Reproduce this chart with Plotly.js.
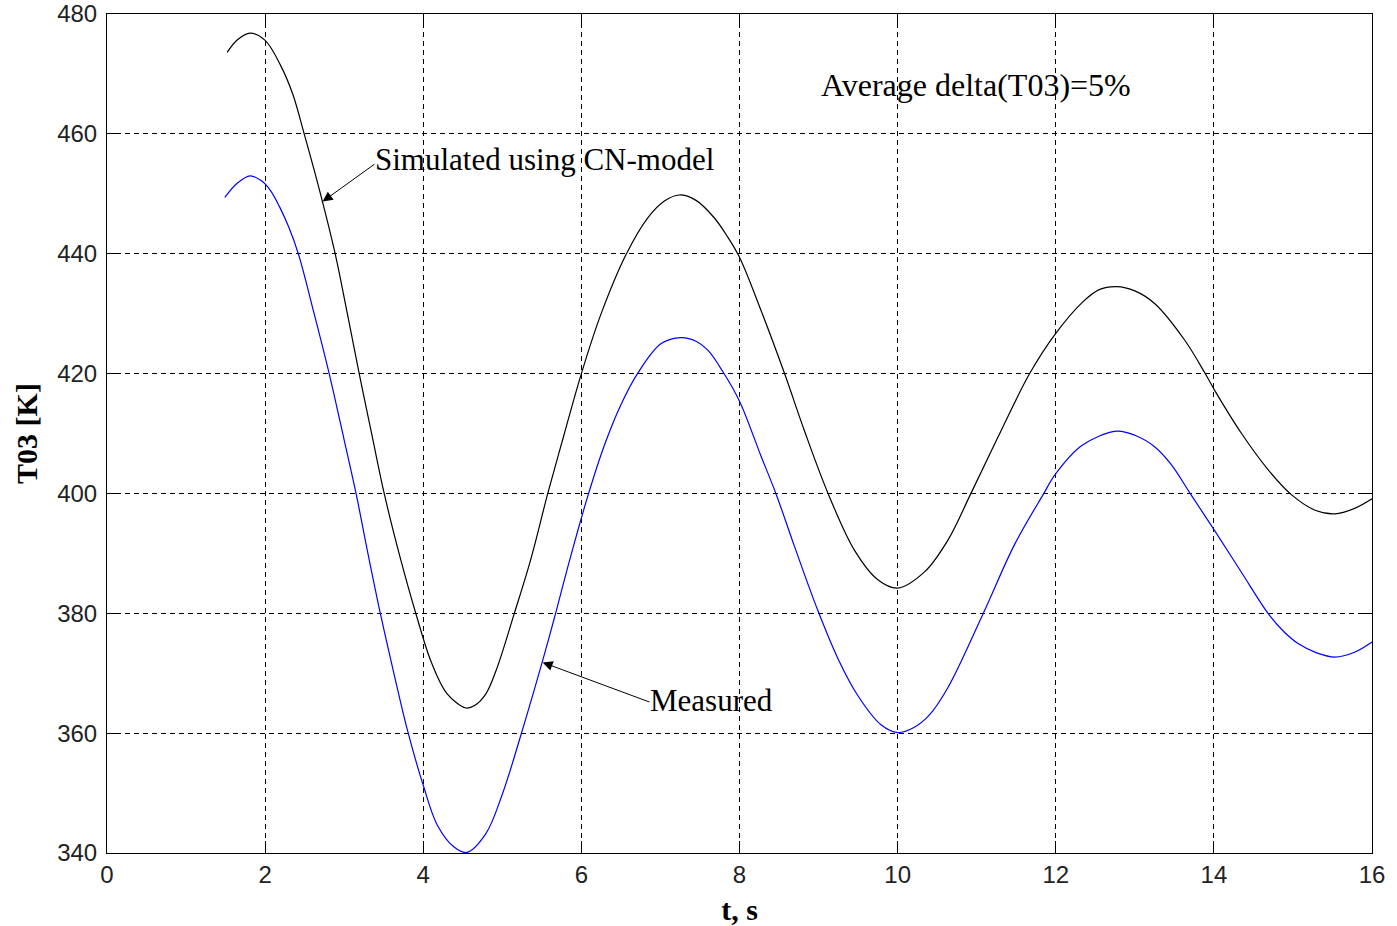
<!DOCTYPE html>
<html>
<head>
<meta charset="utf-8">
<script src="https://cdn.plot.ly/plotly-3.0.1.min.js"></script>
<style>
  html, body { margin: 0; padding: 0; background: #ffffff; }
  #chart { width: 1397px; height: 926px; }
</style>
</head>
<body>
<div id="chart"></div>
<script>
// Simulated (CN-model), black curve
var simT = [1.52, 1.65, 1.81, 2.0, 2.2, 2.35, 2.494, 2.69, 2.886, 3.04, 3.19, 3.35, 3.506,
  3.71, 3.91, 4.1, 4.3, 4.54, 4.65, 4.79, 4.92, 5.15, 5.36, 5.575, 5.785, 6.0, 6.25, 6.57,
  6.84, 7.05, 7.24, 7.45, 7.68, 7.85, 8.0, 8.27, 8.57, 8.82, 9.12, 9.455, 9.75, 10.0, 10.34,
  10.64, 10.92, 11.27, 11.67, 12.0, 12.33, 12.55, 12.77, 13.0, 13.25, 13.63, 13.89, 14.01,
  14.35, 14.69, 14.98, 15.28, 15.53, 15.78, 16.0];
var simTemp = [473.6, 475.7, 476.8, 475.6, 471.3, 466.6, 460.0, 450.5, 440.0, 430.0, 420.0,
  409.8, 400.0, 389.2, 379.8, 371.9, 366.6, 364.2, 364.6, 366.5, 370.4, 379.9, 389.0, 400.0,
  410.0, 420.0, 430.0, 440.0, 446.0, 448.8, 449.8, 448.9, 446.0, 442.8, 439.4, 430.6, 420.0,
  410.5, 400.0, 390.5, 385.6, 384.2, 386.9, 392.3, 399.8, 409.4, 420.0, 426.7, 431.8, 434.0,
  434.5, 433.8, 431.7, 425.6, 420.0, 417.2, 410.0, 403.9, 399.8, 397.2, 396.6, 397.5, 399.1];

// Measured, blue curve
var measT = [1.49, 1.65, 1.81, 1.95, 2.07, 2.18, 2.30, 2.42, 2.62, 2.81, 3.0, 3.15, 3.30,
  3.46, 3.63, 3.80, 4.0, 4.18, 4.39, 4.55, 4.79, 5.0, 5.24, 5.51, 5.66, 5.85, 6.08, 6.29,
  6.5, 6.71, 7.01, 7.26, 7.45, 7.6, 7.79, 8.0, 8.27, 8.46, 8.70, 8.99, 9.25, 9.5, 9.79, 10.0,
  10.2, 10.4, 10.64, 11.08, 11.48, 11.84, 12.0, 12.33, 12.77, 13.0, 13.25, 13.45, 13.71,
  14.01, 14.35, 14.69, 14.88, 15.07, 15.3, 15.53, 15.78, 16.0];
var measTemp = [449.4, 451.8, 453.0, 452.2, 450.5, 447.9, 444.4, 440.0, 430.0, 420.0, 408.9,
  400.0, 390.0, 379.8, 369.9, 360.5, 351.3, 344.6, 341.0, 340.1, 343.2, 349.8, 359.9, 372.1,
  379.3, 388.8, 399.5, 408.0, 414.8, 420.0, 425.0, 426.0, 425.4, 423.9, 420.3, 415.4, 406.3,
  400.0, 391.0, 380.5, 372.3, 366.2, 361.4, 360.1, 360.9, 363.0, 367.7, 379.9, 391.5, 399.8,
  403.3, 408.0, 410.4, 409.7, 407.8, 405.0, 399.8, 393.8, 386.8, 379.9, 377.0, 374.9, 373.4,
  372.7, 373.5, 375.2];

var xTicks = [0, 2, 4, 6, 8, 10, 12, 14, 16];
var yTicks = [340, 360, 380, 400, 420, 440, 460, 480];

var xTitle = "t, s";
var yTitle = "T03 [K]";
var simLabel = "Simulated using CN-model";
var measLabel = "Measured";
var noteLabel = "Average delta(T03)=5%";

var serif = "'Liberation Serif', 'Times New Roman', Times, serif";
var sans = "'Liberation Sans', Arial, Helvetica, sans-serif";

var traces = [
  { x: simT, y: simTemp, type: 'scatter', mode: 'lines', name: simLabel,
    line: { color: '#000000', width: 1.2, shape: 'spline', smoothing: 1 } },
  { x: measT, y: measTemp, type: 'scatter', mode: 'lines', name: measLabel,
    line: { color: '#0000ff', width: 1.2, shape: 'spline', smoothing: 1 } }
];

var axisCommon = {
  showline: true, linecolor: '#000000', linewidth: 1, mirror: 'ticks',
  ticks: 'inside', ticklen: 12, tickwidth: 1, tickcolor: '#000000',
  showgrid: true, gridcolor: '#000000', gridwidth: 1, griddash: '5px,4px',
  zeroline: false,
  tickfont: { family: sans, size: 24, color: '#222222' }
};

var layout = {
  width: 1397, height: 926,
  margin: { l: 107, r: 25, t: 14, b: 73 },
  paper_bgcolor: '#ffffff', plot_bgcolor: '#ffffff',
  showlegend: false,
  xaxis: Object.assign({}, axisCommon, {
    range: [0, 16], tickmode: 'array', tickvals: xTicks, ticktext: xTicks.map(String),
    title: { text: xTitle, font: { family: serif, size: 30, color: '#000000', weight: 'bold' }, standoff: 13 }
  }),
  yaxis: Object.assign({}, axisCommon, {
    range: [340, 480], tickmode: 'array', tickvals: yTicks, ticktext: yTicks.map(String),
    ticklabelstandoff: 4,
    title: { text: yTitle, font: { family: serif, size: 30, color: '#000000', weight: 'bold' }, standoff: 10 }
  }),
  annotations: [
    { x: 3.365, y: 455.7, xref: 'x', yref: 'y', text: simLabel, showarrow: false,
      xanchor: 'left', yanchor: 'middle', font: { family: serif, size: 31, color: '#000000' } },
    { x: 2.727, y: 448.7, ax: 3.40, ay: 455.1, xref: 'x', yref: 'y', axref: 'x', ayref: 'y',
      text: '', showarrow: true, arrowhead: 2, arrowsize: 2, arrowwidth: 1, arrowcolor: '#000000',
      standoff: 0, startstandoff: 0 },
    { x: 6.845, y: 365.4, xref: 'x', yref: 'y', text: measLabel, showarrow: false,
      xanchor: 'left', yanchor: 'middle', font: { family: serif, size: 31, color: '#000000' } },
    { x: 5.51, y: 371.8, ax: 6.88, ay: 365.1, xref: 'x', yref: 'y', axref: 'x', ayref: 'y',
      text: '', showarrow: true, arrowhead: 2, arrowsize: 2, arrowwidth: 1, arrowcolor: '#000000',
      standoff: 0, startstandoff: 0 },
    { x: 9.0, y: 468.2, xref: 'x', yref: 'y', text: noteLabel, showarrow: false,
      xanchor: 'left', yanchor: 'middle', font: { family: serif, size: 32, color: '#000000' } }
  ]
};

Plotly.newPlot('chart', traces, layout, { staticPlot: true, displayModeBar: false });
</script>
</body>
</html>
